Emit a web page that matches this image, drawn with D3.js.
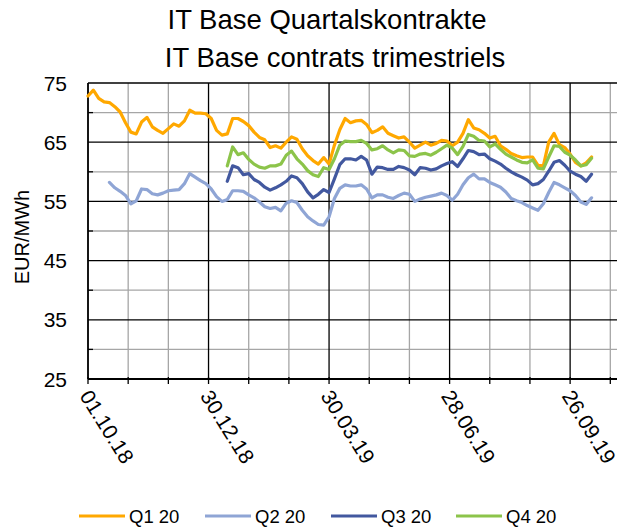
<!DOCTYPE html>
<html>
<head>
<meta charset="utf-8">
<script src="https://cdn.jsdelivr.net/npm/d3@7"></script>
<style>
  html, body { margin: 0; padding: 0; background: #fff; }
  svg { display: block; font-family: "Liberation Sans", Arial, sans-serif; }
</style>
</head>
<body>
<div id="chart"></div>
<script>
// Sample dates (every 4 days)
const dates = [
  "01.10.18","05.10.18","09.10.18","13.10.18","17.10.18","21.10.18","25.10.18","29.10.18",
  "02.11.18","06.11.18","10.11.18","14.11.18","18.11.18","22.11.18","26.11.18","30.11.18",
  "04.12.18","08.12.18","12.12.18","16.12.18","20.12.18","24.12.18","28.12.18",
  "01.01.19","05.01.19","09.01.19","13.01.19","17.01.19","21.01.19","25.01.19","29.01.19",
  "02.02.19","06.02.19","10.02.19","14.02.19","18.02.19","22.02.19","26.02.19",
  "02.03.19","06.03.19","10.03.19","14.03.19","18.03.19","22.03.19","26.03.19","30.03.19",
  "03.04.19","07.04.19","11.04.19","15.04.19","19.04.19","23.04.19","27.04.19",
  "01.05.19","05.05.19","09.05.19","13.05.19","17.05.19","21.05.19","25.05.19","29.05.19",
  "02.06.19","06.06.19","10.06.19","14.06.19","18.06.19","22.06.19","26.06.19","30.06.19",
  "04.07.19","08.07.19","12.07.19","16.07.19","20.07.19","24.07.19","28.07.19",
  "01.08.19","05.08.19","09.08.19","13.08.19","17.08.19","21.08.19","25.08.19","29.08.19",
  "02.09.19","06.09.19","10.09.19","14.09.19","18.09.19","22.09.19","26.09.19","30.09.19",
  "04.10.19","08.10.19","12.10.19"
];

const q1 = [
  72.8,73.8,72.4,71.8,71.7,71.0,70.1,68.3,
  66.7,66.4,68.4,69.2,67.6,67.0,66.5,67.3,
  68.1,67.7,68.6,70.4,69.9,69.9,69.8,
  69.0,67.0,66.2,66.4,69.0,69.0,68.5,67.8,
  66.7,65.8,65.4,64.1,64.4,64.0,65.0,
  65.9,65.5,63.9,62.7,61.9,61.3,62.4,61.3,
  64.5,67.1,69.0,68.3,68.6,68.7,68.0,
  66.6,67.0,67.6,66.5,66.1,65.7,65.9,65.0,
  64.0,64.5,65.0,64.5,64.8,65.3,65.2,64.4,
  65.0,66.5,68.8,67.4,67.1,66.5,65.7,
  66.0,64.4,63.8,63.1,62.7,62.4,62.5,62.5,
  61.1,61.0,65.0,66.5,64.6,64.1,63.0,61.6,
  61.0,61.5,62.5
];

const q2 = [
  null,null,null,null,58.2,57.3,56.7,56.0,
  54.6,55.1,57.1,57.0,56.3,56.1,56.4,56.8,
  56.9,57.0,58.0,59.7,59.1,58.5,58.0,
  57.1,55.8,55.0,55.3,56.8,56.8,56.7,56.1,
  55.6,54.9,54.1,53.8,54.0,53.4,54.7,
  55.1,54.8,53.5,52.4,51.7,51.1,51.0,52.4,
  55.5,57.2,57.8,57.6,57.6,57.8,57.1,
  55.6,56.1,56.1,55.7,55.5,56.0,56.4,56.2,
  55.0,55.4,55.7,55.9,56.1,56.4,56.0,55.2,
  56.2,57.8,59.0,59.6,58.8,58.8,58.2,
  57.8,57.4,56.6,55.5,55.1,54.8,54.3,53.9,
  53.5,54.6,56.5,58.2,57.8,57.3,56.8,56.0,
  54.9,54.5,55.6
];

const q3 = [
  null,null,null,null,null,null,null,null,
  null,null,null,null,null,null,null,null,
  null,null,null,null,null,null,null,
  null,null,null,58.4,61.0,60.7,59.5,59.7,
  58.7,58.2,57.4,56.9,57.3,57.8,58.4,
  59.3,59.0,58.0,56.6,55.6,56.2,57.0,56.5,
  58.8,61.2,62.2,62.2,62.0,62.6,62.0,
  59.6,60.8,60.7,60.4,60.4,60.9,60.7,60.3,
  59.5,60.7,60.6,60.3,60.5,61.0,61.4,61.7,
  60.9,62.2,63.6,63.4,62.9,63.0,62.2,
  61.8,61.3,60.6,60.0,59.5,59.1,58.6,57.8,
  58.0,58.7,60.1,61.6,61.9,61.1,60.1,59.6,
  59.2,58.4,59.6
];

const q4 = [
  null,null,null,null,null,null,null,null,
  null,null,null,null,null,null,null,null,
  null,null,null,null,null,null,null,
  null,null,null,61.0,64.2,62.9,63.2,62.1,
  61.3,60.8,60.6,61.0,61.0,61.3,62.8,
  63.5,62.2,61.3,60.2,59.5,59.2,60.7,60.4,
  62.2,64.5,65.2,65.1,65.1,65.3,64.8,
  63.7,63.9,64.4,63.7,63.2,63.7,63.6,62.7,
  62.6,63.0,63.1,62.8,63.3,63.9,64.5,64.0,
  62.9,64.3,66.3,66.0,65.3,65.2,64.2,
  64.7,63.8,63.0,62.5,62.0,61.6,61.5,62.0,
  60.6,60.5,62.5,64.4,64.3,63.3,62.8,62.0,
  61.0,61.2,62.3
];

const seriesNames = ["Q1 20", "Q2 20", "Q3 20", "Q4 20"];
const seriesColors = ["#ffa800", "#8fa5d5", "#42589f", "#8cc44a"];

// x ticks every 30 days; every third one is labelled
const xTicks = [
  "01.10.18","31.10.18","30.11.18","30.12.18","29.01.19","28.02.19","30.03.19",
  "29.04.19","29.05.19","28.06.19","28.07.19","27.08.19","26.09.19","26.10.19"
];
const xLabelTicks = ["01.10.18","30.12.18","30.03.19","28.06.19","26.09.19"];
const yMajor = [25, 35, 45, 55, 65, 75];
const yMinor = [30, 40, 50, 60, 70];

const W = 622, H = 529;
const parse = d3.timeParse("%d.%m.%y");
const fmt = d3.timeFormat("%d.%m.%y");

const svg = d3.select("#chart").append("svg").attr("width", W).attr("height", H);

const x = d3.scaleTime()
  .domain([parse("01.10.18"), parse("31.10.19")])
  .range([88, 617]);
const y = d3.scaleLinear().domain([25, 75]).range([379, 83]);

// Title
svg.append("text").attr("x", 327).attr("y", 29).attr("text-anchor", "middle")
  .attr("font-size", 27.5).attr("fill", "#000").text("IT Base Quartalskontrakte");
svg.append("text").attr("x", 335).attr("y", 67).attr("text-anchor", "middle")
  .attr("font-size", 27.5).attr("fill", "#000").text("IT Base contrats trimestriels");

// Grid
const grid = svg.append("g");
grid.selectAll("line.ymin").data(yMinor).join("line").attr("class", "ymin")
  .attr("x1", x.range()[0]).attr("x2", x.range()[1])
  .attr("y1", d => y(d)).attr("y2", d => y(d))
  .attr("stroke", "#a6a6a6").attr("stroke-width", 1.3);
grid.selectAll("line.xmin").data(xTicks.filter(t => !xLabelTicks.includes(t))).join("line").attr("class", "xmin")
  .attr("x1", d => x(parse(d))).attr("x2", d => x(parse(d)))
  .attr("y1", y(75)).attr("y2", y(25))
  .attr("stroke", "#a6a6a6").attr("stroke-width", 1.3);
grid.selectAll("line.ymaj").data(yMajor).join("line").attr("class", "ymaj")
  .attr("x1", x.range()[0]).attr("x2", x.range()[1])
  .attr("y1", d => y(d)).attr("y2", d => y(d))
  .attr("stroke", "#000").attr("stroke-width", 1.3);
grid.selectAll("line.xmaj").data(xLabelTicks).join("line").attr("class", "xmaj")
  .attr("x1", d => x(parse(d))).attr("x2", d => x(parse(d)))
  .attr("y1", y(75)).attr("y2", y(25))
  .attr("stroke", "#000").attr("stroke-width", 1.3);

// Axes lines and ticks
svg.append("line").attr("x1", 88).attr("x2", 88).attr("y1", y(75)).attr("y2", y(25))
  .attr("stroke", "#000").attr("stroke-width", 1.5);
svg.append("line").attr("x1", x.range()[0]).attr("x2", x.range()[1]).attr("y1", y(25)).attr("y2", y(25))
  .attr("stroke", "#000").attr("stroke-width", 1.8);
svg.selectAll("line.ytick").data(yMinor).join("line").attr("class", "ytick")
  .attr("x1", 88).attr("x2", 93).attr("y1", d => y(d)).attr("y2", d => y(d))
  .attr("stroke", "#000").attr("stroke-width", 1.3);
svg.selectAll("line.xtick").data(xTicks).join("line").attr("class", "xtick")
  .attr("x1", d => x(parse(d))).attr("x2", d => x(parse(d)))
  .attr("y1", y(25) - 2).attr("y2", y(25) + 5)
  .attr("stroke", "#000").attr("stroke-width", 1.3);

// Y tick labels
svg.selectAll("text.ylab").data(yMajor).join("text").attr("class", "ylab")
  .attr("x", 67).attr("y", d => y(d)).attr("dy", "0.36em")
  .attr("text-anchor", "end").attr("font-size", 21).attr("fill", "#000")
  .text(d => d);

// X tick labels (rotated)
svg.selectAll("text.xlab").data(xLabelTicks).join("text").attr("class", "xlab")
  .attr("transform", d => `translate(${x(parse(d)) - 9},${y(25) + 17}) rotate(58)`)
  .attr("text-anchor", "start").attr("font-size", 21).attr("fill", "#000")
  .text(d => fmt(parse(d)));

// Y axis title
svg.append("text").attr("transform", "translate(29,237) rotate(-90)")
  .attr("text-anchor", "middle").attr("font-size", 20).attr("fill", "#000")
  .text("EUR/MWh");

// Lines
const rows = dates.map((d, i) => ({ date: parse(d), vals: [q1[i], q2[i], q3[i], q4[i]] }));
const plot = svg.append("g");
seriesNames.forEach((name, s) => {
  const line = d3.line()
    .defined(r => r.vals[s] != null)
    .x(r => x(r.date))
    .y(r => y(r.vals[s]));
  plot.append("path").datum(rows)
    .attr("fill", "none").attr("stroke", seriesColors[s])
    .attr("stroke-width", 3.2).attr("stroke-linejoin", "round").attr("stroke-linecap", "round")
    .attr("d", line);
});

// Legend
const lg = svg.append("g").attr("transform", "translate(0,516)");
const legX = [79, 205, 331, 456];
seriesNames.forEach((name, s) => {
  lg.append("line").attr("x1", legX[s]).attr("x2", legX[s] + 46).attr("y1", 0).attr("y2", 0)
    .attr("stroke", seriesColors[s]).attr("stroke-width", 3.2);
  lg.append("text").attr("x", legX[s] + 50).attr("y", 0).attr("dy", "0.36em")
    .attr("font-size", 18.5).attr("fill", "#000").text(name);
});
</script>
</body>
</html>
